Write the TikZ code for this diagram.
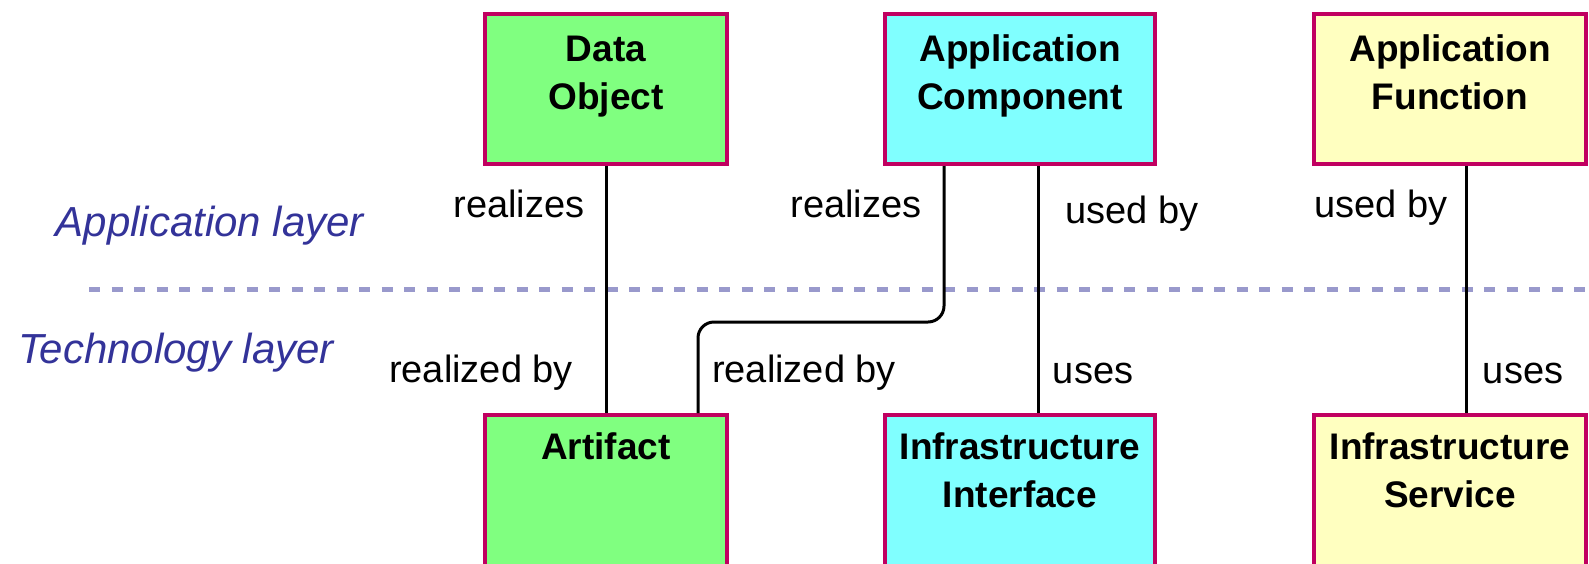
\documentclass[tikz,border=0pt]{standalone}
\usepackage{fontspec}
\setmainfont{Liberation Sans}
\usetikzlibrary{positioning}
\definecolor{rimred}{RGB}{192,0,96}
\definecolor{objgreen}{RGB}{128,255,128}
\definecolor{appcyan}{RGB}{128,255,255}
\definecolor{funcyellow}{RGB}{255,255,192}
\definecolor{layerblue}{RGB}{51,51,153}
\definecolor{sepblue}{RGB}{153,153,204}
\tikzstyle{elem} = [rectangle, draw=rimred, line width=4pt, inner sep=0pt,
    anchor=north west, align=center, minimum width=242pt,
    font=\bfseries\fontsize{37}{48}\selectfont, text height=95pt, text depth=55pt]
\tikzstyle{lower} = [text height=92pt, text depth=64pt]
\tikzstyle{oneline} = [text height=44pt, text depth=112pt]
\tikzstyle{link} = [draw, line width=3pt]
\tikzstyle{rel} = [anchor=base, inner sep=0pt, font=\fontsize{38}{46}\selectfont]
\tikzstyle{layer} = [anchor=base, inner sep=0pt, text=layerblue,
    font=\itshape\fontsize{42}{50}\selectfont]

\begin{document}
\begin{tikzpicture}[x=1pt, y=-1pt]
  \useasboundingbox (0,0) rectangle (1589,563);
   % Place nodes
    \node [elem, fill=objgreen] (dobj) at (483,12) {Data\\Object};
    \node [elem, fill=appcyan, minimum width=270pt] (comp) at (883,12) {Application\\Component};
    \node [elem, fill=funcyellow, minimum width=272pt] (func) at (1312,12) {Application\\Function};
    \node [elem, oneline, fill=objgreen] (art) at (483,413) {Artifact};
    \node [elem, lower, fill=appcyan, minimum width=270pt] (iface) at (883,413) {Infrastructure\\Interface};
    \node [elem, lower, fill=funcyellow, minimum width=272pt] (serv) at (1312,413) {Infrastructure\\Service};
   % Layers
    \coordinate (sepl) at (89,289);
    \coordinate (sepr) at (1589,289);
    \draw [sepblue, line width=5pt, dash pattern=on 11pt off 11.5pt] (sepl) -- (sepr);
    \node [layer] (applayer) at (210,236) {Application layer};
    \node [layer] (techlayer) at (176,363) {Technology layer};
   % Draw edges
    \path [link] (dobj.south) -- (art.north);
    \path [link, rounded corners=16pt] ([xshift=-76pt]comp.south) -- ++(0,156) -| ([xshift=92pt]art.north);
    \path [link] ([xshift=18pt]comp.south) -- ([xshift=18pt]iface.north);
    \path [link] ([xshift=16pt]func.south) -- ([xshift=16pt]serv.north);
   % Edge labels
    \node [rel] (dobjreal) at (519,217) {realizes};
    \node [rel] (compreal) at (856,217) {realizes};
    \node [rel] (compused) at (1132,223) {used by};
    \node [rel] (funcused) at (1381,217) {used by};
    \node [rel] (artreal) at (481,382) {realized by};
    \node [rel] (artreal2) at (804,382) {realized by};
    \node [rel] (ifaceuses) at (1093,383) {uses};
    \node [rel] (servuses) at (1523,383) {uses};
\end{tikzpicture}
\end{document}
